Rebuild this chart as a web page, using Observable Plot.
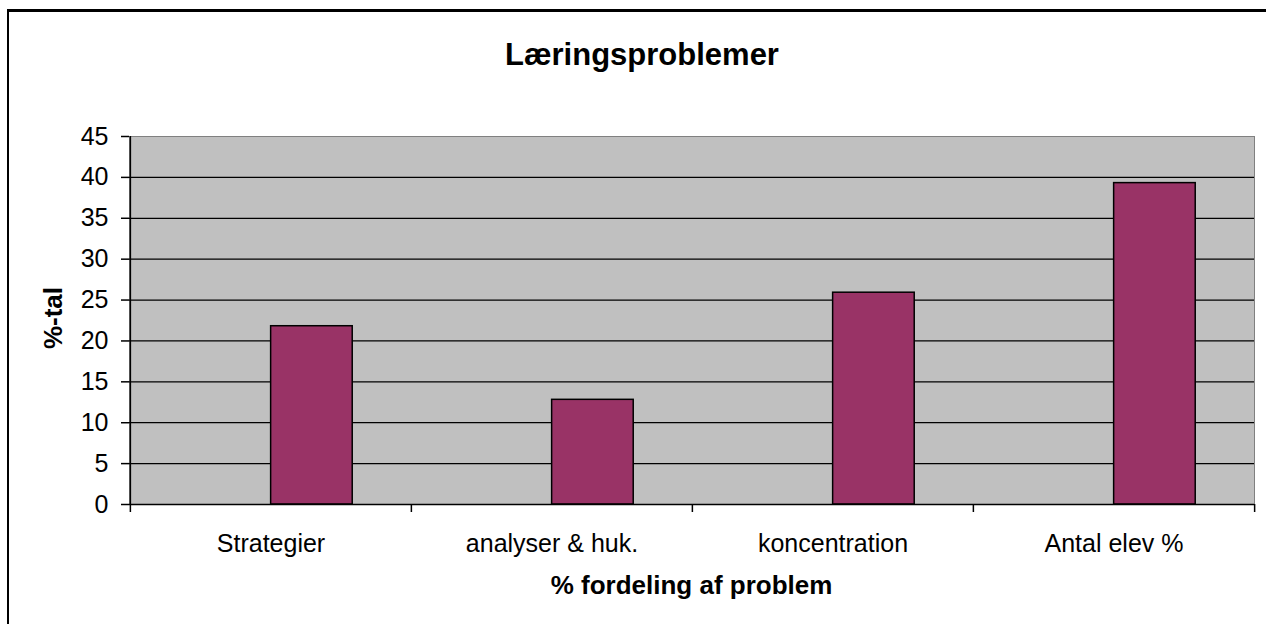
<!DOCTYPE html>
<html>
<head>
<meta charset="utf-8">
<script src="https://cdn.jsdelivr.net/npm/d3@7"></script>
<script src="https://cdn.jsdelivr.net/npm/@observablehq/plot@0.6"></script>
<style>
  html, body { margin: 0; padding: 0; background: #fff; }
  body { width: 1266px; height: 624px; overflow: hidden; position: relative; font-family: "Liberation Sans", Arial, sans-serif; }
  #border { position: absolute; left: 7px; top: 9px; width: 1400px; height: 800px; border-left: 2px solid #000; border-top: 3px solid #000; box-sizing: border-box; }
  #title { position: absolute; left: 0; width: 1284px; top: 39px; text-align: center; font-weight: bold; font-size: 31px; line-height: 31px; white-space: nowrap; color: #000; }
  #chart { position: absolute; left: 0; top: 0; }
  #xlabel { position: absolute; left: 129px; width: 1125px; top: 572px; text-align: center; font-weight: bold; font-size: 26px; line-height: 26px; white-space: nowrap; color: #000; }
  #ylabel { position: absolute; left: 53px; top: 318px; transform: translate(-50%, -50%) rotate(-90deg); font-weight: bold; font-size: 26px; line-height: 26px; white-space: nowrap; color: #000; }
</style>
</head>
<body>
<div id="border"></div>
<div id="title">Læringsproblemer</div>
<div id="chart"></div>
<div id="xlabel">% fordeling af problem</div>
<div id="ylabel">%-tal</div>
<script>
const categories = ["Strategier", "analyser & huk.", "koncentration", "Antal elev %"];
const values = [21.8, 12.8, 25.9, 39.3];
const yTicks = [0, 5, 10, 15, 20, 25, 30, 35, 40, 45];

const data = categories.map((c, i) => ({cat: c, value: values[i]}));

const W = 1266, H = 624;
const mL = 129, mR = 12, mT = 136, mB = 120;
const bw = (W - mL - mR) / categories.length;
const barW = bw * 0.291;

const plot = Plot.plot({
  width: W,
  height: H,
  marginLeft: mL,
  marginRight: mR,
  marginTop: mT,
  marginBottom: mB,
  style: {fontFamily: "'Liberation Sans', Arial, sans-serif", fontSize: "25px", color: "#000", background: "transparent", overflow: "visible"},
  x: {type: "band", domain: categories, padding: 0, axis: null},
  y: {domain: [0, 45], axis: null},
  marks: [
    Plot.frame({fill: "#C0C0C0", stroke: "#808080", strokeWidth: 1}),
    Plot.ruleY(yTicks.filter(d => d > 0 && d < 45), {stroke: "#000", strokeWidth: 1.2}),
    Plot.barY(data, {x: "cat", y: "value", fill: "#993366", stroke: "#000", strokeWidth: 1.5,
      insetLeft: bw * 0.5, insetRight: bw * 0.5 - barW}),
    Plot.ruleY([0], {stroke: "#000", strokeWidth: 1.5}),
    Plot.ruleX([categories[0]], {dx: -bw / 2, stroke: "#000", strokeWidth: 1.5}),
    Plot.ruleX(categories, {y1: 0, y2: 0, insetTop: 0, insetBottom: -8, dx: -bw / 2, stroke: "#000", strokeWidth: 1.5}),
    Plot.ruleX([categories[categories.length - 1]], {y1: 0, y2: 0, insetTop: 0, insetBottom: -8, dx: bw / 2, stroke: "#000", strokeWidth: 1.5}),
    Plot.axisY({ticks: yTicks, tickSize: 8, tickPadding: 13, tickFormat: d => String(d), stroke: "#000", strokeWidth: 1.5, fill: "#000", label: null}),
    Plot.axisX({tickSize: 0, tickPadding: 30, fill: "#000", label: null})
  ]
});
document.getElementById("chart").appendChild(plot);
</script>
</body>
</html>
